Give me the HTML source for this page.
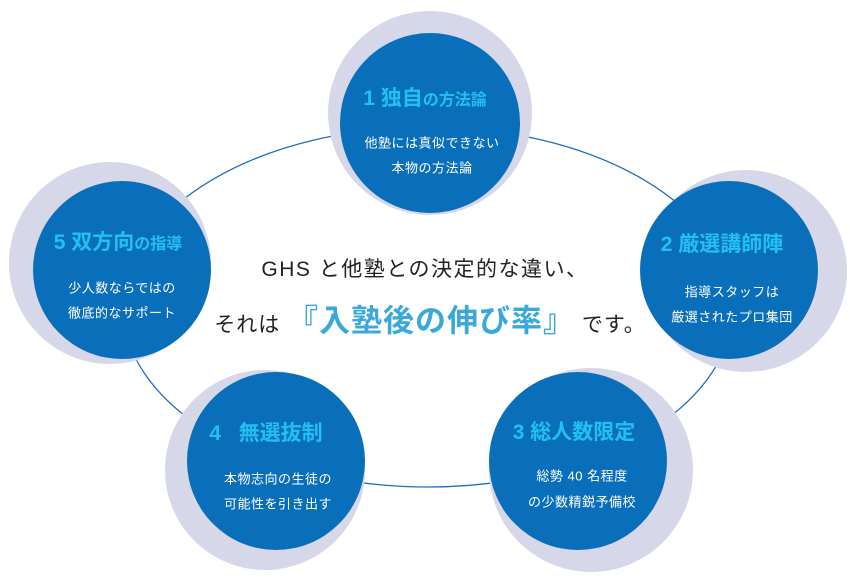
<!DOCTYPE html>
<html><head><meta charset="utf-8"><style>
html,body{margin:0;padding:0;background:#fff;}
body{width:850px;height:582px;position:relative;overflow:hidden;font-family:"Liberation Sans","Noto Sans CJK JP",sans-serif;}
.t{position:absolute;white-space:nowrap;text-align:center;transform:translate(-50%,-50%);}
.ti{color:#22c0f2;font-weight:bold;font-size:21px;}
.ti small{font-size:16px;}
.b{color:#fff;font-size:13px;letter-spacing:0.5px;}
</style></head><body>
<svg width="850" height="582" style="position:absolute;left:0;top:0">
<ellipse cx="428" cy="307" rx="305" ry="180" fill="none" stroke="#1e6fc0" stroke-width="1.3"/>
<g fill="#d7d7ea">
<circle cx="430" cy="113" r="102"/>
<circle cx="746" cy="271" r="101"/>
<circle cx="110" cy="263" r="101"/>
<circle cx="265" cy="470" r="100"/>
<circle cx="591" cy="470" r="102"/>
</g>
<g fill="#0a6fba">
<circle cx="430" cy="123" r="90"/>
<circle cx="729" cy="270" r="89"/>
<circle cx="122" cy="270" r="89"/>
<circle cx="276" cy="461" r="89"/>
<circle cx="578" cy="461" r="89"/>
</g>
</svg>
<div class="t ti" style="left:425px;top:97px">1 独自<small>の方法論</small></div>
<div class="t b" style="left:432px;top:142px">他塾には真似できない</div>
<div class="t b" style="left:432px;top:167px">本物の方法論</div>

<div class="t ti" style="left:722px;top:243px">2 厳選講師陣</div>
<div class="t b" style="left:732px;top:291px">指導スタッフは</div>
<div class="t b" style="left:732px;top:316px">厳選されたプロ集団</div>

<div class="t ti" style="left:118px;top:241px">5 双方向<small>の指導</small></div>
<div class="t b" style="left:122px;top:287px">少人数ならではの</div>
<div class="t b" style="left:122px;top:312px">徹底的なサポート</div>

<div class="t ti" style="left:266px;top:432px">4&nbsp;&nbsp;&nbsp;無選抜制</div>
<div class="t b" style="left:278px;top:478px">本物志向の生徒の</div>
<div class="t b" style="left:278px;top:503px">可能性を引き出す</div>

<div class="t ti" style="left:574px;top:431px">3 総人数限定</div>
<div class="t b" style="left:582px;top:475px">総勢 40 名程度</div>
<div class="t b" style="left:582px;top:501px">の少数精鋭予備校</div>

<div class="t" style="left:425px;top:268px;font-size:21px;color:#222;letter-spacing:1.5px">GHS と他塾との決定的な違い、</div>
<div class="t" style="left:430px;top:318px;font-size:21px;color:#222;letter-spacing:1px">それは <span style="color:#3aa8dc;font-size:31px;font-weight:bold;letter-spacing:1px">『入塾後の伸び率』</span> です。</div>
</body></html>
